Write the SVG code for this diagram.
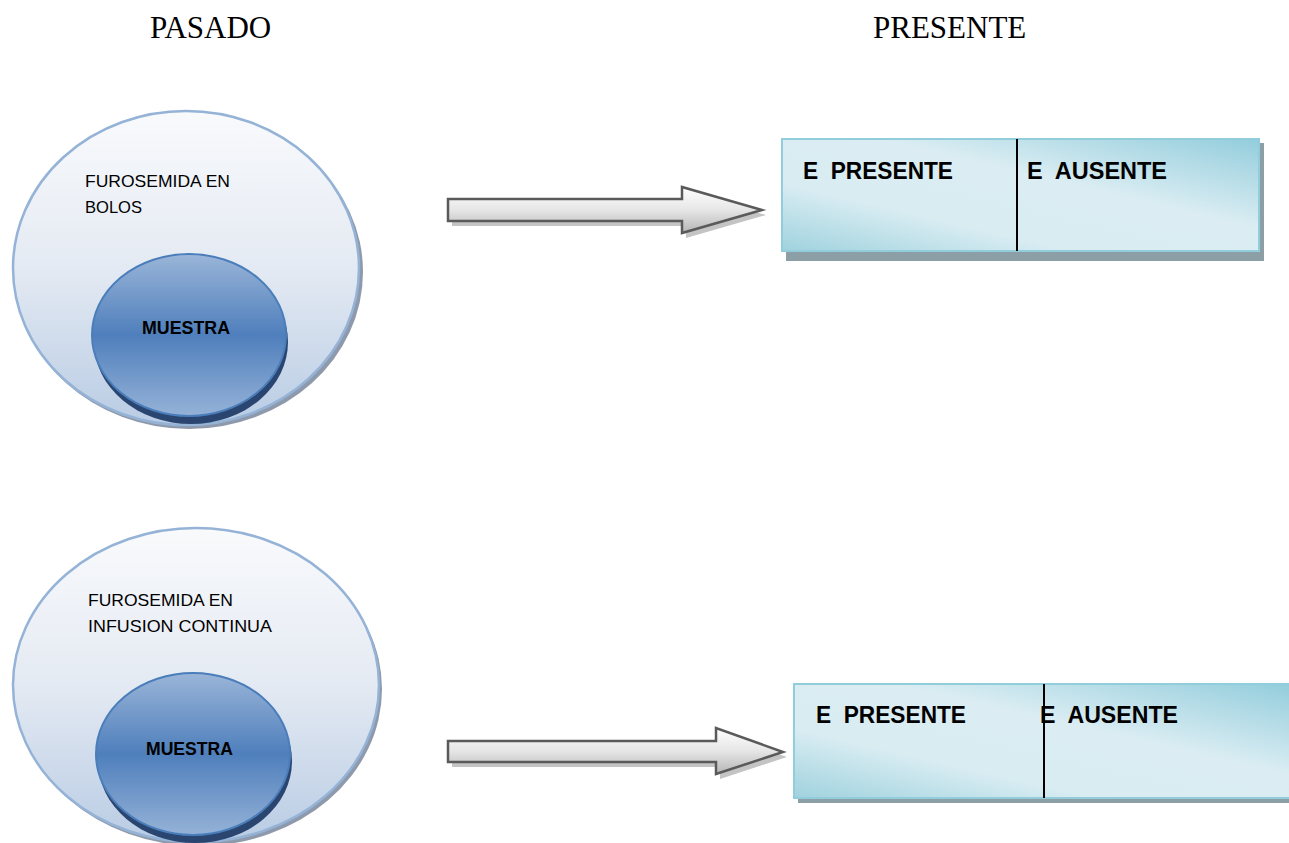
<svg xmlns="http://www.w3.org/2000/svg" width="1289" height="843" viewBox="0 0 1289 843">
<defs>
<linearGradient id="gOuter" x1="0" y1="0" x2="0" y2="1">
<stop offset="0" stop-color="#f9fafc"/>
<stop offset="0.5" stop-color="#e4eaf3"/>
<stop offset="1" stop-color="#b9cce4"/>
</linearGradient>
<linearGradient id="gInner" x1="0" y1="0" x2="0" y2="1">
<stop offset="0" stop-color="#9ab5d8"/>
<stop offset="0.5" stop-color="#4f7fbc"/>
<stop offset="1" stop-color="#95b2d7"/>
</linearGradient>
<linearGradient id="gBox" x1="0" y1="1" x2="1" y2="0">
<stop offset="0" stop-color="#9fd2de"/>
<stop offset="0.3" stop-color="#d8ecf2"/>
<stop offset="0.6" stop-color="#dbedf3"/>
<stop offset="1" stop-color="#93cddc"/>
</linearGradient>
<linearGradient id="gArrow" x1="0" y1="0" x2="0" y2="1">
<stop offset="0" stop-color="#ffffff"/>
<stop offset="0.5" stop-color="#e6e6e6"/>
<stop offset="1" stop-color="#b5b5b5"/>
</linearGradient>
</defs>
<style>
text{white-space:pre}
.hdr{font-family:"Liberation Serif","Times New Roman",serif;font-size:31px;fill:#000}
.lbl{font-family:"Liberation Sans",Arial,sans-serif;font-size:16.5px;fill:#000}
.mu{font-family:"Liberation Sans",Arial,sans-serif;font-size:17.5px;font-weight:bold;fill:#000}
.bx{font-family:"Liberation Sans",Arial,sans-serif;font-size:24px;font-weight:bold;fill:#000}
.outer{fill:url(#gOuter);stroke:#95b3d7;stroke-width:2.5}
.outerSh{fill:#8e9aab}
.inner{fill:url(#gInner);stroke:#4a7ebb;stroke-width:2}
.innerSh{fill:#2a4670}
.box{fill:url(#gBox);stroke:#92cddc;stroke-width:2}
.boxSh{fill:#8c9fa6}
.div{stroke:#000;stroke-width:2}
.arrow{fill:url(#gArrow);stroke:#5a5a5a;stroke-width:2.5;stroke-linejoin:miter}
.arrowSh{fill:#c4c4c4}
</style>

<g id="headers">
<text class="hdr" x="150" y="38">PASADO</text>
<text class="hdr" x="873" y="38">PRESENTE</text>
</g>

<g id="node-bolos">
<ellipse class="outerSh" cx="189" cy="272" rx="174" ry="157"/>
<ellipse class="outer" cx="186" cy="268" rx="173" ry="157"/>
<text class="lbl" x="85" y="187" textLength="145" lengthAdjust="spacingAndGlyphs">FUROSEMIDA EN</text>
<text class="lbl" x="85" y="213" textLength="57" lengthAdjust="spacingAndGlyphs">BOLOS</text>
</g>
<g id="node-muestra-1">
<ellipse class="innerSh" cx="191" cy="342" rx="97" ry="82"/>
<ellipse class="inner" cx="189" cy="335" rx="97" ry="81"/>
<text class="mu" x="142" y="334" textLength="88" lengthAdjust="spacingAndGlyphs">MUESTRA</text>
</g>

<g id="node-infusion">
<ellipse class="outerSh" cx="199" cy="689" rx="183" ry="157"/>
<ellipse class="outer" cx="196" cy="685" rx="183" ry="157"/>
<text class="lbl" x="88" y="606" textLength="145" lengthAdjust="spacingAndGlyphs">FUROSEMIDA EN</text>
<text class="lbl" x="88" y="632" textLength="184" lengthAdjust="spacingAndGlyphs">INFUSION CONTINUA</text>
</g>
<g id="node-muestra-2">
<ellipse class="innerSh" cx="195" cy="761" rx="97" ry="82"/>
<ellipse class="inner" cx="193" cy="754" rx="97" ry="81"/>
<text class="mu" x="146" y="755" textLength="87" lengthAdjust="spacingAndGlyphs">MUESTRA</text>
</g>

<g id="node-box-1">
<rect class="boxSh" x="786" y="143" width="478" height="118"/>
<rect class="box" x="782" y="139" width="477" height="112"/>
<line class="div" x1="1017" y1="139" x2="1017" y2="251"/>
<text class="bx" x="803" y="179" textLength="150" lengthAdjust="spacingAndGlyphs">E  PRESENTE</text>
<text class="bx" x="1027" y="179" textLength="140" lengthAdjust="spacingAndGlyphs">E  AUSENTE</text>
</g>

<g id="node-box-2">
<rect class="boxSh" x="798" y="688" width="495" height="115"/>
<rect class="box" x="794" y="684" width="497" height="114"/>
<line class="div" x1="1044" y1="684" x2="1044" y2="798"/>
<text class="bx" x="816" y="723" textLength="150" lengthAdjust="spacingAndGlyphs">E  PRESENTE</text>
<text class="bx" x="1040" y="723" textLength="138" lengthAdjust="spacingAndGlyphs">E  AUSENTE</text>
</g>

<g id="connectors">
<path class="arrowSh" d="M452 204 H686 V192 L766 215 L686 238 V226 H452 Z"/>
<path class="arrow" d="M448 199 H682 V187 L762 210 L682 233 V221 H448 Z"/>
<path class="arrowSh" d="M452 746 H720 V733 L787 757 L720 779 V767 H452 Z"/>
<path class="arrow" d="M448 741 H716 V728 L783 752 L716 774 V762 H448 Z"/>
</g>
</svg>
